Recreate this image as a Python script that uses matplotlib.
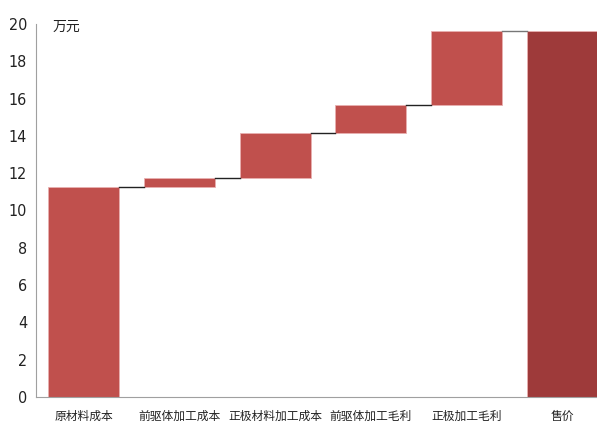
import matplotlib
matplotlib.use("Agg")
import matplotlib.pyplot as plt
from matplotlib import font_manager

categories = ["原材料成本", "前驱体加工成本", "正极材料加工成本", "前驱体加工毛利", "正极加工毛利", "售价"]
steps = [11.28, 0.45, 2.43, 1.52, 3.94]
total = 19.62
yticks = [0, 2, 4, 6, 8, 10, 12, 14, 16, 18, 20]

names = {f.name for f in font_manager.fontManager.ttflist}
if "Liberation Sans Narrow" in names:
    num_font, num_stretch = "Liberation Sans Narrow", "normal"
else:
    num_font, num_stretch = "DejaVu Sans", "condensed"

fig = plt.figure(figsize=(5.97, 4.25), dpi=100)
ax = fig.add_axes([36/597, 28/425, 574/597, 373/425])

bottoms = []
heights = []
cum = 0.0
for s in steps:
    bottoms.append(cum)
    heights.append(s)
    cum += s
bottoms.append(0)
heights.append(total)

x = list(range(len(categories)))
colors = ["#C0504D"] * len(steps) + ["#9E3A3A"]
w = 0.74
ax.bar(x, heights, bottom=bottoms, width=w, color=colors, edgecolor="#E8B0B0", linewidth=0.6, zorder=2)

tops = [b + h for b, h in zip(bottoms, heights)]
for i in range(len(categories) - 1):
    lvl = tops[i]
    ax.plot([i + w/2, i + 1 - w/2], [lvl, lvl], color="#222222" if i < len(categories) - 2 else "#777777",
            linewidth=1.0, zorder=3)

ax.set_xlim(-0.5, 5.5)
ax.set_ylim(0, 20)
ax.set_yticks(yticks)
ax.set_yticklabels([str(v) for v in yticks], fontfamily=num_font, fontstretch=num_stretch,
                   fontsize=11.5, color="#222222")
ax.set_xticks(x)
ax.set_xticklabels(categories, fontfamily=["Noto Sans CJK SC", "DejaVu Sans"], fontsize=8.5, color="#222222")
ax.tick_params(axis="both", length=0)
ax.tick_params(axis="x", pad=9)
ax.tick_params(axis="y", pad=6.5)

for s in ["top", "right"]:
    ax.spines[s].set_visible(False)
ax.spines["left"].set_color("#A0A0A0")
ax.spines["bottom"].set_color("#A0A0A0")
ax.spines["left"].set_linewidth(0.8)
ax.spines["bottom"].set_linewidth(0.8)

ax.text(-0.33, 19.85, "万元", fontfamily=["Noto Sans CJK SC", "DejaVu Sans"],
        fontsize=10, color="#222222", va="center", ha="left")

fig.savefig("out.png", dpi=100)
